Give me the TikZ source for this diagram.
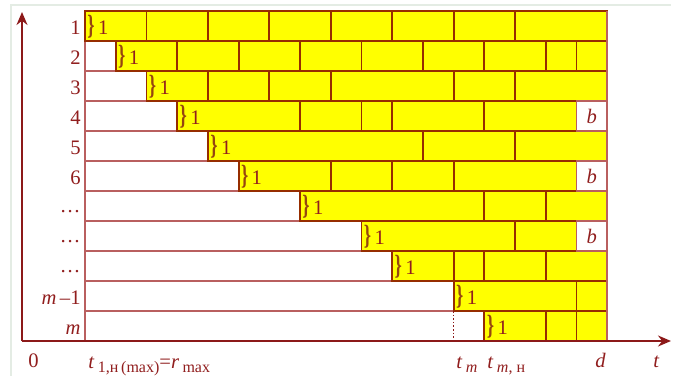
\documentclass[tikz,border=0pt]{standalone}
\usepackage{fontspec}
\setmainfont{Liberation Serif}
\usetikzlibrary{arrows.meta}
\definecolor{brickc}{RGB}{150,45,0}
\definecolor{cellc}{RGB}{185,95,95}
\definecolor{axisc}{RGB}{140,25,25}
\definecolor{txtc}{RGB}{145,30,30}
\definecolor{bracec}{RGB}{150,70,15}
\definecolor{framec}{RGB}{228,236,228}
\definecolor{yel}{RGB}{255,255,0}
\newcommand\gx[1]{85+30.72*#1}
\newcommand\yt[1]{11+30*(#1-1)}
\newcommand\subtxt[1]{\raisebox{-0.5ex}{\fontsize{8}{9}\selectfont #1}}
\newcommand\brickrow[4]{%
  \fill[yel] ({\gx{#2}},{\yt{#1}}) rectangle ({\gx{#4}},{\yt{#1}+30});
  \foreach \k in {#3} {\draw[brickline] ({\gx{\k}},{\yt{#1}}) -- ({\gx{\k}},{\yt{#1}+30});}
  \draw[brickline] ({\gx{#2}},{\yt{#1}}) rectangle ({\gx{#4}},{\yt{#1}+30});
  \node[onelab] (one#1) at ({\gx{#2}+2},{\yt{#1}+16}) {{\color{bracec}\scalebox{0.9}[1.35]{\textbf{\}}}}\,1};
}
\newcommand\bcell[2]{%
  \draw[cellline,fill=white] ({\gx{16}},{\yt{#1}}) rectangle ({\gx{17}},{\yt{#1}+30});
  \node[txt] (#2) at ({\gx{16.5}},{\yt{#1}+15}) {\textit{b}};
}
\begin{document}
\begin{tikzpicture}[x=0.5pt,y=-0.5pt,
  txt/.style={text=txtc,font=\fontsize{10.3}{12}\selectfont,inner sep=0pt},
  onelab/.style={txt,anchor=west},
  rowlab/.style={txt,anchor=base east},
  brickline/.style={draw=brickc,line width=0.9pt},
  cellline/.style={draw=cellc,line width=0.8pt},
  axis/.style={draw=axisc,line width=0.9pt,-{Stealth[length=6.5pt,width=5.5pt]}}]
\useasboundingbox (0,0) rectangle (676,376);
\fill[white] (0,0) rectangle (676,376);
% faint outer frame
\draw[framec,line width=0.6pt] (11,376) -- (11,5) -- (671,5);
% white grid rows
\draw[cellline] (85,11) rectangle ({\gx{17}},341);
\foreach \i in {1,...,10} {\draw[cellline] (85,{11+30*\i}) -- ({\gx{17}},{11+30*\i});}
% bricks
\brickrow{1}{0}{2,4,6,8,10,12,14}{17}
\brickrow{2}{1}{3,5,7,9,11,13,15,16}{17}
\brickrow{3}{2}{4,6,8,12,14}{17}
\brickrow{4}{3}{7,9,10,13}{16}
\brickrow{5}{4}{11,14}{17}
\brickrow{6}{5}{8,10,12}{16}
\brickrow{7}{7}{13,15}{17}
\brickrow{8}{9}{14}{16}
\brickrow{9}{10}{12,13,15}{17}
\brickrow{10}{12}{16}{17}
\brickrow{11}{13}{15,16}{17}
\bcell{4}{b4}
\bcell{6}{b6}
\bcell{8}{b8}
\draw[cellline] ({\gx{17}},11) -- ({\gx{17}},341);
% dotted line at t_m
\coordinate (tmtop) at ({\gx{12}},311);
\coordinate (tmbot) at ({\gx{12}},341);
\draw[draw=axisc,line width=0.8pt,densely dotted] (tmtop) -- (tmbot);
% axes
\coordinate (O) at (22,341);
\coordinate (ytip) at (22,12);
\coordinate (xtip) at (671,341);
\draw[axis] (O) -- (ytip);
\draw[axis] (O) -- (xtip);
% row labels
\node[rowlab] (r1) at (81,{\yt{1}+23}) {1};
\node[rowlab] (r2) at (81,{\yt{2}+23}) {2};
\node[rowlab] (r3) at (81,{\yt{3}+23}) {3};
\node[rowlab] (r4) at (81,{\yt{4}+23}) {4};
\node[rowlab] (r5) at (81,{\yt{5}+23}) {5};
\node[rowlab] (r6) at (81,{\yt{6}+23}) {6};
\node[rowlab] (r7) at (81,{\yt{7}+21}) {\ldots};
\node[rowlab] (r8) at (81,{\yt{8}+21}) {\ldots};
\node[rowlab] (r9) at (81,{\yt{9}+21}) {\ldots};
\node[rowlab] (r10) at (81,{\yt{10}+23}) {\textit{m}\,–1};
\node[rowlab] (r11) at (81,{\yt{11}+23}) {\textit{m}};
% bottom labels
\node[txt,anchor=base west] (zero) at (28,367) {0};
\node[txt,anchor=base west] (t1) at (88,368) {\textit{t}\,\subtxt{1,н\,(max)}=\textit{r}\,\subtxt{max}};
\node[txt,anchor=base west] (tm) at (456,368) {\textit{t}\,\subtxt{\textit{m}}};
\node[txt,anchor=base west] (tmn) at (487,368) {\textit{t}\,\subtxt{\textit{m}, н}};
\node[txt,anchor=base west] (d) at (595,367) {\textit{d}};
\node[txt,anchor=base west] (t) at (653,367) {\textit{t}};
\end{tikzpicture}
\end{document}
